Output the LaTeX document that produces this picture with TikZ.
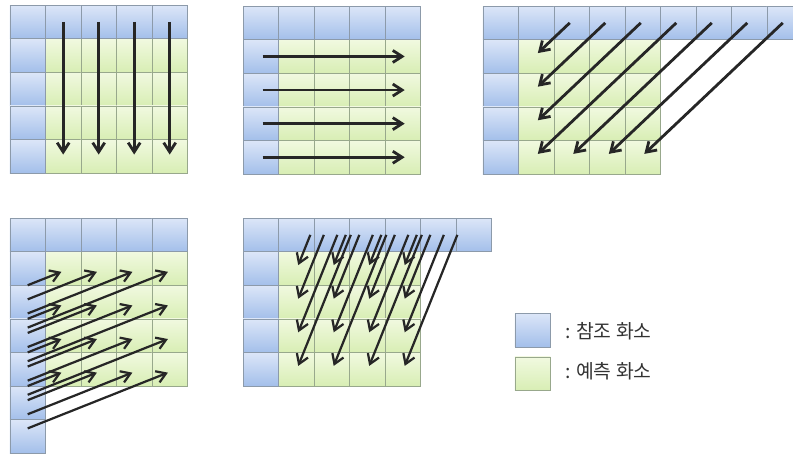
\documentclass[tikz,border=0pt]{standalone}
\usepackage{fontspec}
\newfontfamily\kofont{Noto Sans CJK KR}
\usetikzlibrary{arrows.meta}

\definecolor{refTop}{HTML}{DCE6F8}
\definecolor{refBot}{HTML}{A3BFEA}
\definecolor{predTop}{HTML}{F1F9E0}
\definecolor{predBot}{HTML}{D8EEB4}
\definecolor{cellLine}{HTML}{8C9AAA}
\definecolor{predLine}{HTML}{98A88C}

% top row of reference cells 0..#1, left column 1..#2, 4x4 block inside
\newcommand{\blockgrid}[2]{%
  \foreach \i in {1,...,4}
    \foreach \j in {1,...,4}
      \path[predcell] (\i,\j) rectangle ++(1,1);
  \foreach \i in {0,...,#1}
    \path[refcell] (\i,0) rectangle ++(1,1);
  \foreach \j in {1,...,#2}
    \path[refcell] (0,\j) rectangle ++(1,1);
}

\begin{document}
\begin{tikzpicture}[x=1.065cm,y=-1.008cm,
    refcell/.style={draw=cellLine, top color=refTop, bottom color=refBot},
    predcell/.style={draw=predLine, top color=predTop, bottom color=predBot},
    scan/.style={-{Straight Barb[length=2.8mm,width=3.6mm]}, line width=2.4pt, black!85},
    finescan/.style={scan, line width=1.9pt},
    legend/.style={anchor=west, font=\kofont\fontsize{16.5}{18}\selectfont, text=black!80}]
    \useasboundingbox (0,0) rectangle (22.338,13.542);
    \clip (0,0) rectangle (22.338,13.542);

    % vertical
    \begin{scope}[shift={(0.28,0.15)}]
        \blockgrid{4}{4}
        \foreach \i in {1,...,4}
            \draw[scan] (\i+.5,.5) -- (\i+.5,4.45);
    \end{scope}

    % horizontal
    \begin{scope}[shift={(6.85,0.18)}]
        \blockgrid{4}{4}
        \foreach \j in {1,...,4}
            \draw[scan] (.55,\j+.5) -- (4.55,\j+.5);
    \end{scope}

    % diagonal down-left
    \begin{scope}[shift={(13.6,0.18)}]
        \blockgrid{8}{4}
        \foreach \k in {2,...,8} {
            \pgfmathsetmacro{\r}{min(\k-1,4)}
            \pgfmathsetmacro{\c}{\k-\r}
            \draw[scan] (\k+.45,.5) -- (\c+.55,\r+.4);
        }
    \end{scope}

    % angular, from the left column
    \begin{scope}[shift={(0.28,6.49)}]
        \blockgrid{4}{6}
        \foreach \i in {1,...,4}
            \foreach \j in {1,...,4}
                \draw[finescan] (.5,{\j+.6+.42*(\i-.05)}) -- (\i+.45,\j+.6);
    \end{scope}

    % angular, from the top row
    \begin{scope}[shift={(6.85,6.49)}]
        \blockgrid{6}{4}
        \foreach \i in {1,...,4}
            \foreach \j in {1,...,4}
                \draw[finescan] ({\i+.55+.38*(\j-.1)},.5) -- (\i+.55,\j+.4);
    \end{scope}

    % legend
    \path[refcell] (14.5,9.32) rectangle ++(1,1);
    \path[predcell] (14.5,10.62) rectangle ++(1,1);
    \node[legend] (reflabel) at (15.8,9.86) {: 참조 화소};
    \node[legend] (predlabel) at (15.8,11.06) {: 예측 화소};
\end{tikzpicture}
\end{document}
